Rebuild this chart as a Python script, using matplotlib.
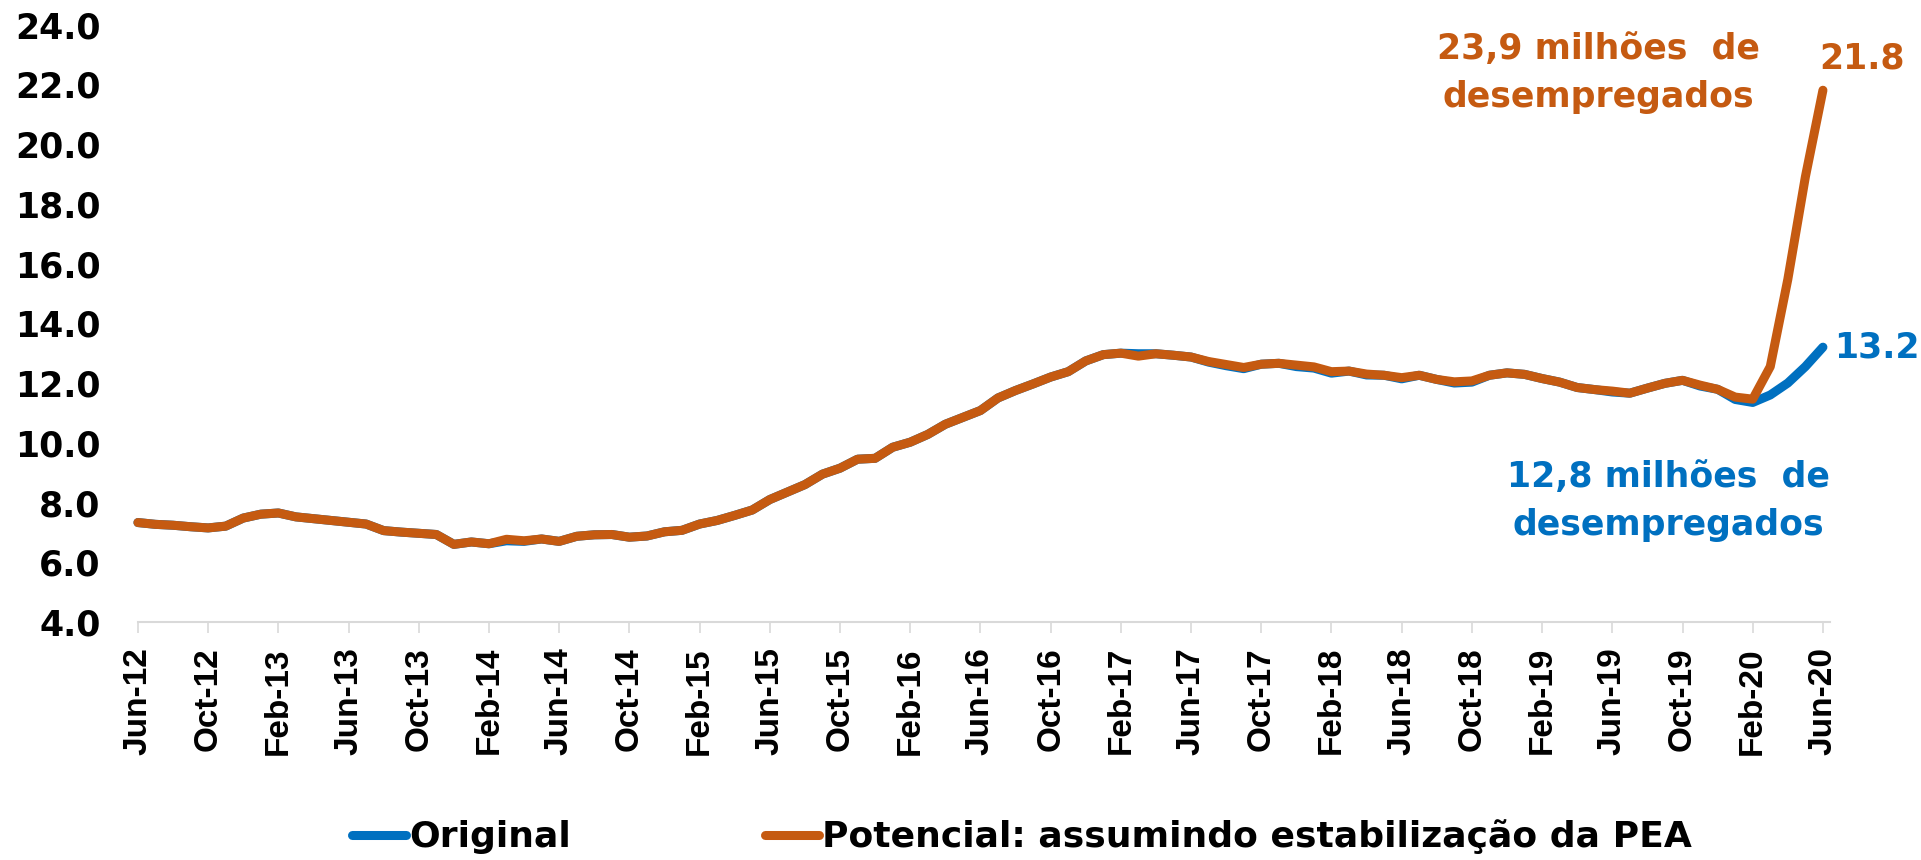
import matplotlib
matplotlib.use("Agg")
import matplotlib.pyplot as plt
import pandas as pd

# monthly series, Jun-12 .. Jun-20
months = pd.date_range("2012-06-01", periods=97, freq="MS")
month_labels = [d.strftime("%b-%y") for d in months]

potencial = [7.33, 7.27, 7.24, 7.19, 7.15, 7.21, 7.48, 7.61, 7.65, 7.52,
             7.46, 7.40, 7.34, 7.28, 7.06, 7.01, 6.97, 6.93, 6.60, 6.68,
             6.62, 6.77, 6.72, 6.78, 6.70, 6.87, 6.92, 6.93, 6.84, 6.88,
             7.02, 7.07, 7.28, 7.40, 7.57, 7.75, 8.10, 8.35, 8.60, 8.95,
             9.15, 9.45, 9.48, 9.85, 10.02, 10.28, 10.62, 10.85, 11.08, 11.50,
             11.75, 11.97, 12.20, 12.38, 12.74, 12.95, 13.00, 12.90, 12.98, 12.93,
             12.87, 12.72, 12.62, 12.52, 12.63, 12.66, 12.60, 12.54, 12.38, 12.40,
             12.30, 12.26, 12.18, 12.26, 12.12, 12.04, 12.07, 12.26, 12.34, 12.29,
             12.15, 12.03, 11.85, 11.78, 11.73, 11.66, 11.83, 11.99, 12.09, 11.93,
             11.79, 11.53, 11.46, 12.55, 15.47, 18.90, 21.80]

original = [7.33, 7.27, 7.24, 7.19, 7.15, 7.21, 7.48, 7.61, 7.65, 7.52,
            7.46, 7.40, 7.34, 7.28, 7.06, 7.01, 6.97, 6.93, 6.60, 6.68,
            6.62, 6.72, 6.70, 6.78, 6.70, 6.87, 6.92, 6.93, 6.84, 6.88,
            7.02, 7.07, 7.28, 7.40, 7.57, 7.75, 8.10, 8.35, 8.60, 8.95,
            9.15, 9.45, 9.48, 9.85, 10.02, 10.28, 10.62, 10.85, 11.08, 11.50,
            11.75, 11.97, 12.20, 12.38, 12.74, 12.95, 13.00, 12.98, 12.98, 12.93,
            12.87, 12.70, 12.58, 12.48, 12.63, 12.66, 12.55, 12.50, 12.33, 12.40,
            12.27, 12.26, 12.14, 12.26, 12.12, 12.00, 12.03, 12.26, 12.34, 12.29,
            12.15, 12.03, 11.85, 11.78, 11.70, 11.66, 11.83, 11.99, 12.09, 11.90,
            11.79, 11.45, 11.35, 11.60, 12.00, 12.55, 13.20]

BLUE = "#0070C0"
ORANGE = "#C55A11"

fig = plt.figure(figsize=(19.21, 8.6), dpi=100)
ax = fig.add_axes([0.0718, 0.2767, 0.8808, 0.6948])

x = list(range(len(months)))
ax.plot(x, original, color=BLUE, lw=6.5, solid_capstyle="round",
        solid_joinstyle="round", label="Original", clip_on=False)
ax.plot(x, potencial, color=ORANGE, lw=6.5, solid_capstyle="round",
        solid_joinstyle="round", label="Potencial: assumindo estabilização da PEA",
        clip_on=False)

ax.set_xlim(0, 96.4)
ax.set_ylim(4, 24)
ax.set_yticks(range(4, 25, 2))
ax.set_yticklabels([f"{v:.1f}" for v in range(4, 25, 2)],
                   fontsize=25, fontweight="bold", family="DejaVu Sans")
ax.tick_params(axis="y", length=0, pad=27)

ax.set_xticks(x[::4])
ax.set_xticklabels(month_labels[::4], rotation=90, fontsize=24,
                   fontweight="bold", family="Liberation Sans")
ax.tick_params(axis="x", direction="out", length=8, width=1.2,
               color="#D9D9D9", pad=10)

for s in ["top", "right", "left"]:
    ax.spines[s].set_visible(False)
ax.spines["bottom"].set_color("#D9D9D9")
ax.spines["bottom"].set_linewidth(1.5)

# end-point labels
ax.annotate(f"{potencial[-1]:.1f}", xy=(x[-1], potencial[-1]), xytext=(-3, 23),
            textcoords="offset points", ha="left", va="center",
            fontsize=25, fontweight="bold", color=ORANGE)
ax.annotate(f"{original[-1]:.1f}", xy=(x[-1], original[-1]), xytext=(8, 0),
            textcoords="offset points", ha="left", va="center",
            fontsize=25, fontweight="bold", color=BLUE, annotation_clip=False)

ax.text(83.2, 22.38, "23,9 milhões  de\ndesempregados", ha="center", va="center",
        fontsize=25, fontweight="bold", color=ORANGE, linespacing=1.5)
ax.text(87.2, 8.05, "12,8 milhões  de\ndesempregados", ha="center", va="center",
        fontsize=25, fontweight="bold", color=BLUE, linespacing=1.5)

fig.legend(loc="center", bbox_to_anchor=(0.532, 0.027), ncol=2, frameon=False,
           prop={"size": 26, "weight": "bold"}, handlelength=1.5,
           handletextpad=0.1, columnspacing=5.35)

fig.savefig("out.png", dpi=100)
